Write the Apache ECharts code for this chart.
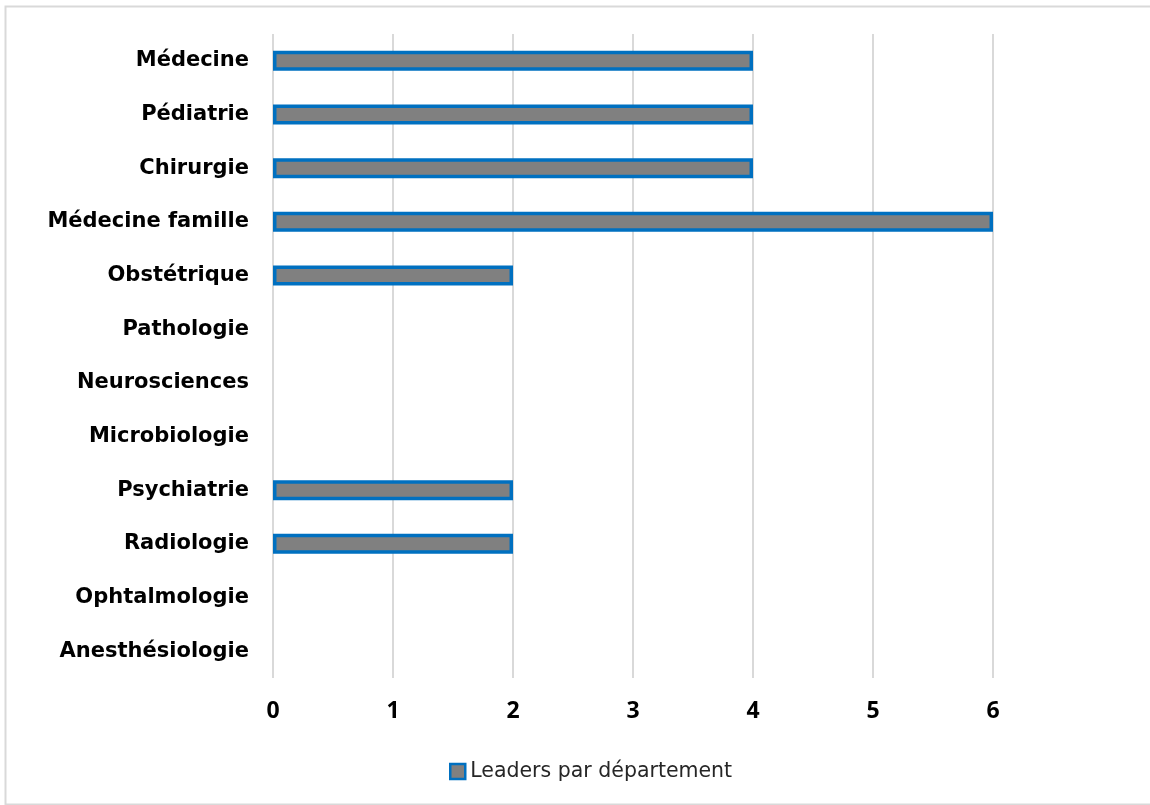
<!DOCTYPE html>
<html><head><meta charset="utf-8">
<script src="https://cdn.jsdelivr.net/npm/echarts@6/dist/echarts.min.js"></script>
<style>html,body{margin:0;padding:0;background:#fff;}#c{width:1150px;height:805px;}</style>
</head><body><div id="c"></div>
<script>
const categories = ['Médecine','Pédiatrie','Chirurgie','Médecine famille','Obstétrique','Pathologie','Neurosciences','Microbiologie','Psychiatrie','Radiologie','Ophtalmologie','Anesthésiologie'];
const values = [4,4,4,6,2,0,0,0,2,2,0,0];
const tickLabels = ['0','1','2','3','4','5','6'];
const seriesName = 'Leaders par département';

const chart = echarts.init(document.getElementById('c'));
chart.setOption({
  animation:false,
  backgroundColor:'#fff',
  graphic:[{type:'rect',shape:{x:5.5,y:6.5,width:1300,height:798},style:{fill:'none',stroke:'#d9d9d9',lineWidth:2},silent:true}],
  grid:{left:273,right:157,top:34,bottom:127,containLabel:false},
  legend:{bottom:18,left:444,itemWidth:15,itemHeight:15,itemGap:4,
    textStyle:{fontFamily:'DejaVu Sans',fontSize:20.5,color:'#262626'},
    data:[{name:seriesName,icon:'rect',itemStyle:{color:'#808080',borderColor:'#0070C0',borderWidth:2.5}}]},
  xAxis:{type:'value',min:0,max:6,interval:1,
    axisLine:{show:false},axisTick:{show:false},
    splitLine:{lineStyle:{color:'#d9d9d9',width:2}},
    axisLabel:{margin:22,fontFamily:'Open Sans',fontWeight:'bold',fontSize:23,color:'#000',
      formatter:(v)=>tickLabels[v]}},
  yAxis:{type:'category',inverse:true,data:categories,
    axisLine:{show:false},axisTick:{show:false},
    axisLabel:{margin:24,fontFamily:'DejaVu Sans',fontWeight:'bold',fontSize:21,color:'#000'}},
  series:[{name:seriesName,type:'bar',barWidth:20,
    data:values.map(v=>v===0?{value:v,itemStyle:{borderWidth:0,opacity:0}}:v),
    itemStyle:{color:'#808080',borderColor:'#0070C0',borderWidth:3.5}}]
});
</script></body></html>
